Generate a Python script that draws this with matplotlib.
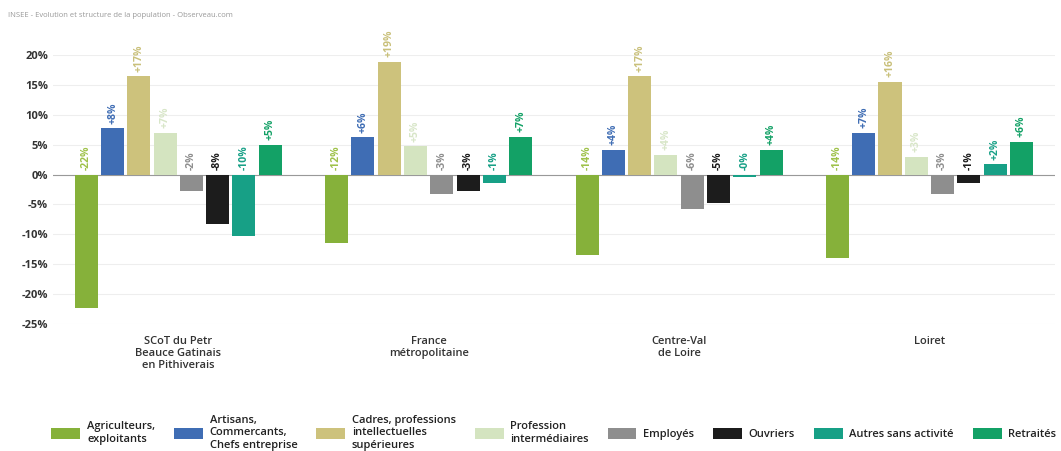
import matplotlib.pyplot as plt
import numpy as np
from matplotlib.patches import Patch

# Données
territoires = ['SCoT du Petr\nBeauce Gatinais\nen Pithiverais', 'France\nmétropolitaine',
               'Centre-Val\nde Loire', 'Loiret']
categories = ['Agriculteurs,\nexploitants', 'Artisans,\nCommercants,\nChefs entreprise',
              'Cadres, professions\nintellectuelles\nsupérieures', 'Profession\nintermédiaires',
              'Employés', 'Ouvriers', 'Autres sans activité', 'Retraités']
couleurs = ['#86b13a', '#3f6db4', '#cdc27c', '#d4e4c0', '#8e8e8e', '#1c1c1c', '#17a086', '#13a166']
couleurs_texte = ['#9fc24a', '#3f6db4', '#c9c07a', '#d8e6c8', '#8e8e8e', '#1c1c1c', '#17a086', '#13a166']

agriculteurs = [-22.3, -11.5, -13.5, -14.0]
artisans = [7.7, 6.2, 4.1, 7.0]
cadres = [16.4, 18.8, 16.4, 15.5]
prof_inter = [7.0, 4.7, 3.3, 2.9]
employes = [-2.7, -3.2, -5.8, -3.3]
ouvriers = [-8.2, -2.7, -4.7, -1.4]
autres = [-10.2, -1.4, -0.4, 1.7]
retraites = [5.0, 6.3, 4.1, 5.4]

etiquettes = [
    ['-22%', '-12%', '-14%', '-14%'],
    ['+8%', '+6%', '+4%', '+7%'],
    ['+17%', '+19%', '+17%', '+16%'],
    ['+7%', '+5%', '+4%', '+3%'],
    ['-2%', '-3%', '-6%', '-3%'],
    ['-8%', '-3%', '-5%', '-1%'],
    ['-10%', '-1%', '-0%', '+2%'],
    ['+5%', '+7%', '+4%', '+6%'],
]
series = [agriculteurs, artisans, cadres, prof_inter, employes, ouvriers, autres, retraites]

plt.rcParams['font.family'] = ['Open Sans', 'DejaVu Sans']

fig = plt.figure(figsize=(10.61, 4.51), dpi=100)
ax = fig.add_axes([0.05, 0.2816, 0.944, 0.5966])

x = np.arange(len(territoires))
pas = 0.105
largeur = 0.092
for i, vals in enumerate(series):
    pos = x + (i - 3.5) * pas
    ax.bar(pos, vals, width=largeur, color=couleurs[i], zorder=3)
    for xp, v, lab in zip(pos, vals, etiquettes[i]):
        y0 = max(v, 0) + 0.8
        ax.text(xp, y0, lab, rotation=90, ha='center', va='bottom', fontsize=7.5,
                fontweight='bold', color=couleurs_texte[i], zorder=4)

ax.set_xlim(-0.5, 3.5)
ax.set_ylim(-25, 20)
ax.set_yticks(np.arange(-25, 21, 5))
ax.set_yticklabels([f'{t}%' for t in range(-25, 21, 5)], fontsize=8, fontweight='bold', color='#333333')
ax.set_xticks(x)
ax.set_xticklabels(territoires, fontsize=8, fontweight='semibold', color='#333333', linespacing=1.1)
ax.tick_params(axis='both', length=0)
ax.tick_params(axis='x', pad=9)
ax.grid(axis='y', color='#eeeeee', linewidth=0.8, zorder=0)
ax.axhline(0, color='#999999', linewidth=0.8, zorder=2)
for s in ax.spines.values():
    s.set_visible(False)

fig.text(0.008, 0.962, 'INSEE - Evolution et structure de la population - Observeau.com',
         fontsize=5.5, color='#999999')

handles = [Patch(facecolor=c) for c in couleurs]
fig.legend(handles, categories, loc='center', bbox_to_anchor=(0.522, 0.04), ncol=8,
           frameon=False, handlelength=2.6, handleheight=1.1,
           columnspacing=1.7, handletextpad=0.6, labelcolor='#222222',
           prop={'weight': 'semibold', 'size': 8})

plt.savefig('out.png', dpi=100)
